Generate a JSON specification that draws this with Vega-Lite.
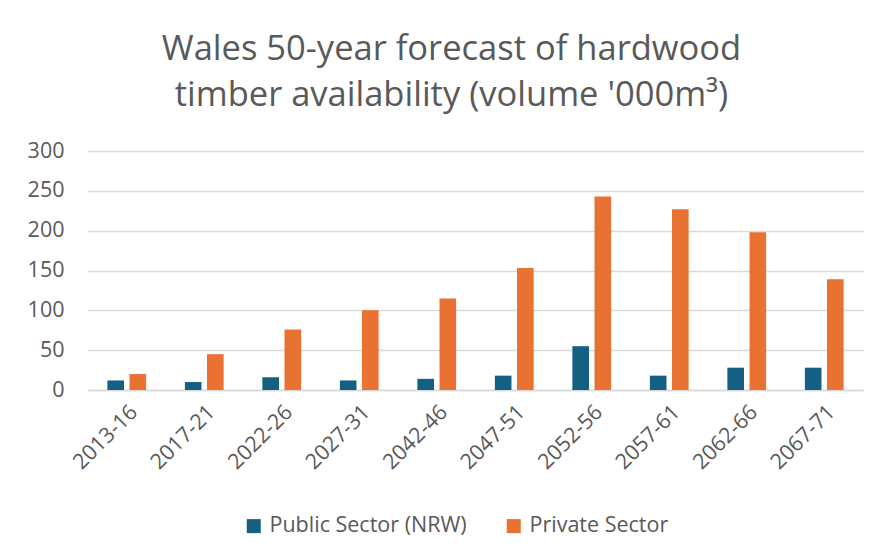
{
  "$schema": "https://vega.github.io/schema/vega-lite/v6.json",
  "width": 775,
  "height": 239,
  "autosize": {"type": "none"},
  "padding": {"left": 88, "top": 151, "right": 17, "bottom": 168},
  "background": "white",
  "title": {
    "text": ["Wales 50-year forecast of hardwood", "timber availability (volume '000m³)"],
    "fontSize": 34.5,
    "font": "Open Sans",
    "fontWeight": "normal",
    "color": "#595959",
    "anchor": "middle",
    "dx": -24,
    "offset": 27,
    "lineHeight": 46
  },
  "data": {
    "values": [
      {"period": "2013-16", "sector": "Public Sector (NRW)", "volume": 12},
      {"period": "2013-16", "sector": "Private Sector", "volume": 20},
      {"period": "2017-21", "sector": "Public Sector (NRW)", "volume": 10},
      {"period": "2017-21", "sector": "Private Sector", "volume": 45},
      {"period": "2022-26", "sector": "Public Sector (NRW)", "volume": 16},
      {"period": "2022-26", "sector": "Private Sector", "volume": 76},
      {"period": "2027-31", "sector": "Public Sector (NRW)", "volume": 12},
      {"period": "2027-31", "sector": "Private Sector", "volume": 100},
      {"period": "2042-46", "sector": "Public Sector (NRW)", "volume": 14},
      {"period": "2042-46", "sector": "Private Sector", "volume": 115},
      {"period": "2047-51", "sector": "Public Sector (NRW)", "volume": 18},
      {"period": "2047-51", "sector": "Private Sector", "volume": 153},
      {"period": "2052-56", "sector": "Public Sector (NRW)", "volume": 55},
      {"period": "2052-56", "sector": "Private Sector", "volume": 243},
      {"period": "2057-61", "sector": "Public Sector (NRW)", "volume": 18},
      {"period": "2057-61", "sector": "Private Sector", "volume": 227},
      {"period": "2062-66", "sector": "Public Sector (NRW)", "volume": 28},
      {"period": "2062-66", "sector": "Private Sector", "volume": 198},
      {"period": "2067-71", "sector": "Public Sector (NRW)", "volume": 28},
      {"period": "2067-71", "sector": "Private Sector", "volume": 139}
    ]
  },
  "mark": {"type": "bar"},
  "encoding": {
    "x": {
      "field": "period",
      "type": "nominal",
      "sort": null,
      "title": null,
      "scale": {"paddingInner": 0.5, "paddingOuter": 0.25},
      "axis": {
        "labelAngle": -45,
        "labelFontSize": 21.5,
        "labelFont": "Open Sans",
        "labelColor": "#595959",
        "labelPadding": 11,
        "ticks": false,
        "domainColor": "#D9D9D9",
        "domainWidth": 1.5
      }
    },
    "xOffset": {
      "field": "sector",
      "type": "nominal",
      "sort": ["Public Sector (NRW)", "Private Sector"],
      "scale": {"paddingInner": 0.25, "paddingOuter": 0}
    },
    "y": {
      "field": "volume",
      "type": "quantitative",
      "title": null,
      "scale": {"domain": [0, 300], "nice": false},
      "axis": {
        "values": [0, 50, 100, 150, 200, 250, 300],
        "labelFontSize": 21.5,
        "labelFont": "Open Sans",
        "labelColor": "#595959",
        "labelPadding": 24,
        "ticks": false,
        "domain": false,
        "gridColor": "#D9D9D9",
        "gridWidth": 1.5
      }
    },
    "color": {
      "field": "sector",
      "type": "nominal",
      "sort": ["Public Sector (NRW)", "Private Sector"],
      "scale": {"domain": ["Public Sector (NRW)", "Private Sector"], "range": ["#156082", "#E97132"]},
      "legend": {
        "title": null,
        "orient": "none",
        "direction": "horizontal",
        "legendX": 155,
        "legendY": 364,
        "symbolType": "square",
        "symbolSize": 196,
        "symbolStrokeWidth": 0,
        "labelFontSize": 21.5,
        "labelFont": "Open Sans",
        "labelColor": "#595959",
        "labelLimit": 400,
        "labelOffset": 5,
        "columnPadding": 36
      }
    }
  },
  "config": {
    "view": {"stroke": null}
  }
}
